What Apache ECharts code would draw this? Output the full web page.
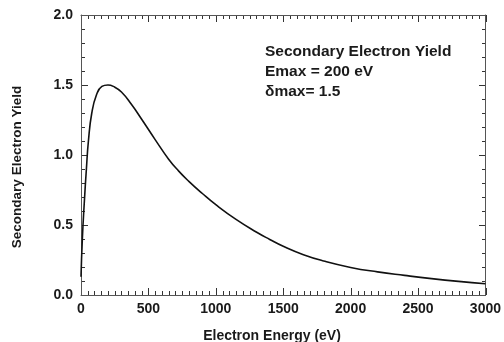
<!DOCTYPE html>
<html>
<head>
<meta charset="utf-8">
<script src="https://cdn.jsdelivr.net/npm/echarts@6/dist/echarts.min.js"></script>
<style>
  html, body { margin: 0; padding: 0; background: #fff; }
  #chart { width: 504px; height: 342px; }
</style>
</head>
<body>
<div id="chart"></div>
<script>
// values
const energies = [0, 10, 25, 40, 55, 80, 115, 155, 200, 240, 300, 375, 450, 550, 650, 725,
  800, 900, 1000, 1150, 1300, 1400, 1500, 1650, 1800, 2000, 2200, 2400, 2600, 2800, 3000];
const yields = [0.13, 0.40, 0.67, 0.90, 1.10, 1.30, 1.43, 1.49, 1.50, 1.49, 1.45, 1.36, 1.255, 1.11, 0.97, 0.885,
  0.812, 0.725, 0.645, 0.54, 0.45, 0.397, 0.348, 0.288, 0.243, 0.197, 0.165, 0.14, 0.117, 0.097, 0.08];
const noteLines = ["Secondary Electron Yield", "Emax = 200 eV", "\u03b4max= 1.5"];
const xTitle = "Electron Energy (eV)";
const yTitle = "Secondary Electron Yield";

const axisGrey = "#555";
const tickGrey = "#333";
const textColor = "#1a1a1a";
const font = "Liberation Sans, Arial, sans-serif";

const chart = echarts.init(document.getElementById("chart"));

const curve = energies.map((e, i) => [e, yields[i]]);
const labelStyle = { fontFamily: font, fontWeight: "bold", fontSize: 14, color: textColor };

// main plot box: x 81..486, y 15..295
const grids = [{ left: 81, right: 18, top: 15, bottom: 47 }];
const xAxes = [
  {
    type: "value", position: "bottom", min: 0, max: 3000, interval: 500,
    axisLine: { show: true, onZero: false, lineStyle: { color: axisGrey, width: 1 } },
    axisTick: { show: false },
    axisLabel: Object.assign({ margin: 7, formatter: (v) => String(v) }, labelStyle),
    splitLine: { show: false },
  },
  {
    type: "value", position: "top", min: 0, max: 3000, interval: 500,
    axisLine: { show: true, onZero: false, lineStyle: { color: axisGrey, width: 1 } },
    axisTick: { show: false },
    axisLabel: { show: false },
    splitLine: { show: false },
  },
];
const yAxes = [
  {
    type: "value", position: "left", min: 0, max: 2, interval: 0.5,
    axisLine: { show: true, onZero: false, lineStyle: { color: axisGrey, width: 1 } },
    axisTick: { show: false },
    axisLabel: Object.assign({ margin: 8, formatter: (v) => v.toFixed(1) }, labelStyle),
    splitLine: { show: false },
  },
  {
    type: "value", position: "right", min: 0, max: 2, interval: 0.5,
    axisLine: { show: true, onZero: false, lineStyle: { color: axisGrey, width: 1 } },
    axisTick: { show: false },
    axisLabel: { show: false },
    splitLine: { show: false },
  },
];

// inward tick marks: thin strip grids along each edge whose split lines act as ticks
function tickAxis(dim, gridIndex, minor) {
  const isX = dim === "x";
  return {
    type: "value",
    gridIndex: gridIndex,
    min: 0,
    max: isX ? 3000 : 2,
    interval: isX ? 500 : 0.5,
    axisLine: { show: false },
    axisTick: { show: false },
    axisLabel: { show: false },
    minorTick: { show: false, splitNumber: isX ? 10 : 5 },
    splitLine: { show: !minor, lineStyle: { color: tickGrey, width: 1 } },
    minorSplitLine: { show: minor, lineStyle: { color: tickGrey, width: 1 } },
  };
}
function hiddenAxis(gridIndex) {
  return { type: "value", gridIndex: gridIndex, min: 0, max: 1, show: false };
}
function addStrip(box, dim, minor) {
  const gi = grids.length;
  grids.push(box);
  if (dim === "x") {
    xAxes.push(tickAxis("x", gi, minor));
    yAxes.push(hiddenAxis(gi));
  } else {
    yAxes.push(tickAxis("y", gi, minor));
    xAxes.push(hiddenAxis(gi));
  }
}
[[7, false], [4, true]].forEach(([len, minor]) => {
  addStrip({ left: 81, right: 18, top: 295 - len, height: len }, "x", minor);
  addStrip({ left: 81, right: 18, top: 15, height: len }, "x", minor);
  addStrip({ left: 81, width: len, top: 15, bottom: 47 }, "y", minor);
  addStrip({ left: 486 - len, width: len, top: 15, bottom: 47 }, "y", minor);
});

chart.setOption({
  animation: false,
  grid: grids,
  xAxis: xAxes,
  yAxis: yAxes,
  graphic: [
    {
      type: "text",
      left: 265,
      top: 42,
      style: {
        text: noteLines.join("\n"),
        fontFamily: font,
        fontWeight: "bold",
        fontSize: 15.5,
        lineHeight: 20,
        fill: textColor,
      },
    },
    {
      type: "text",
      x: 272,
      y: 336,
      style: {
        text: xTitle,
        fontFamily: font,
        fontWeight: "bold",
        fontSize: 14,
        fill: textColor,
        align: "center",
        verticalAlign: "middle",
      },
    },
    {
      type: "text",
      x: 17,
      y: 167,
      rotation: Math.PI / 2,
      style: {
        text: yTitle,
        fontFamily: font,
        fontWeight: "bold",
        fontSize: 13.5,
        fill: textColor,
        align: "center",
        verticalAlign: "middle",
      },
    },
  ],
  series: [
    {
      type: "line",
      xAxisIndex: 0,
      yAxisIndex: 0,
      data: curve,
      smooth: 0.5,
      showSymbol: false,
      lineStyle: { color: "#111", width: 1.6 },
    },
  ],
});
</script>
</body>
</html>
